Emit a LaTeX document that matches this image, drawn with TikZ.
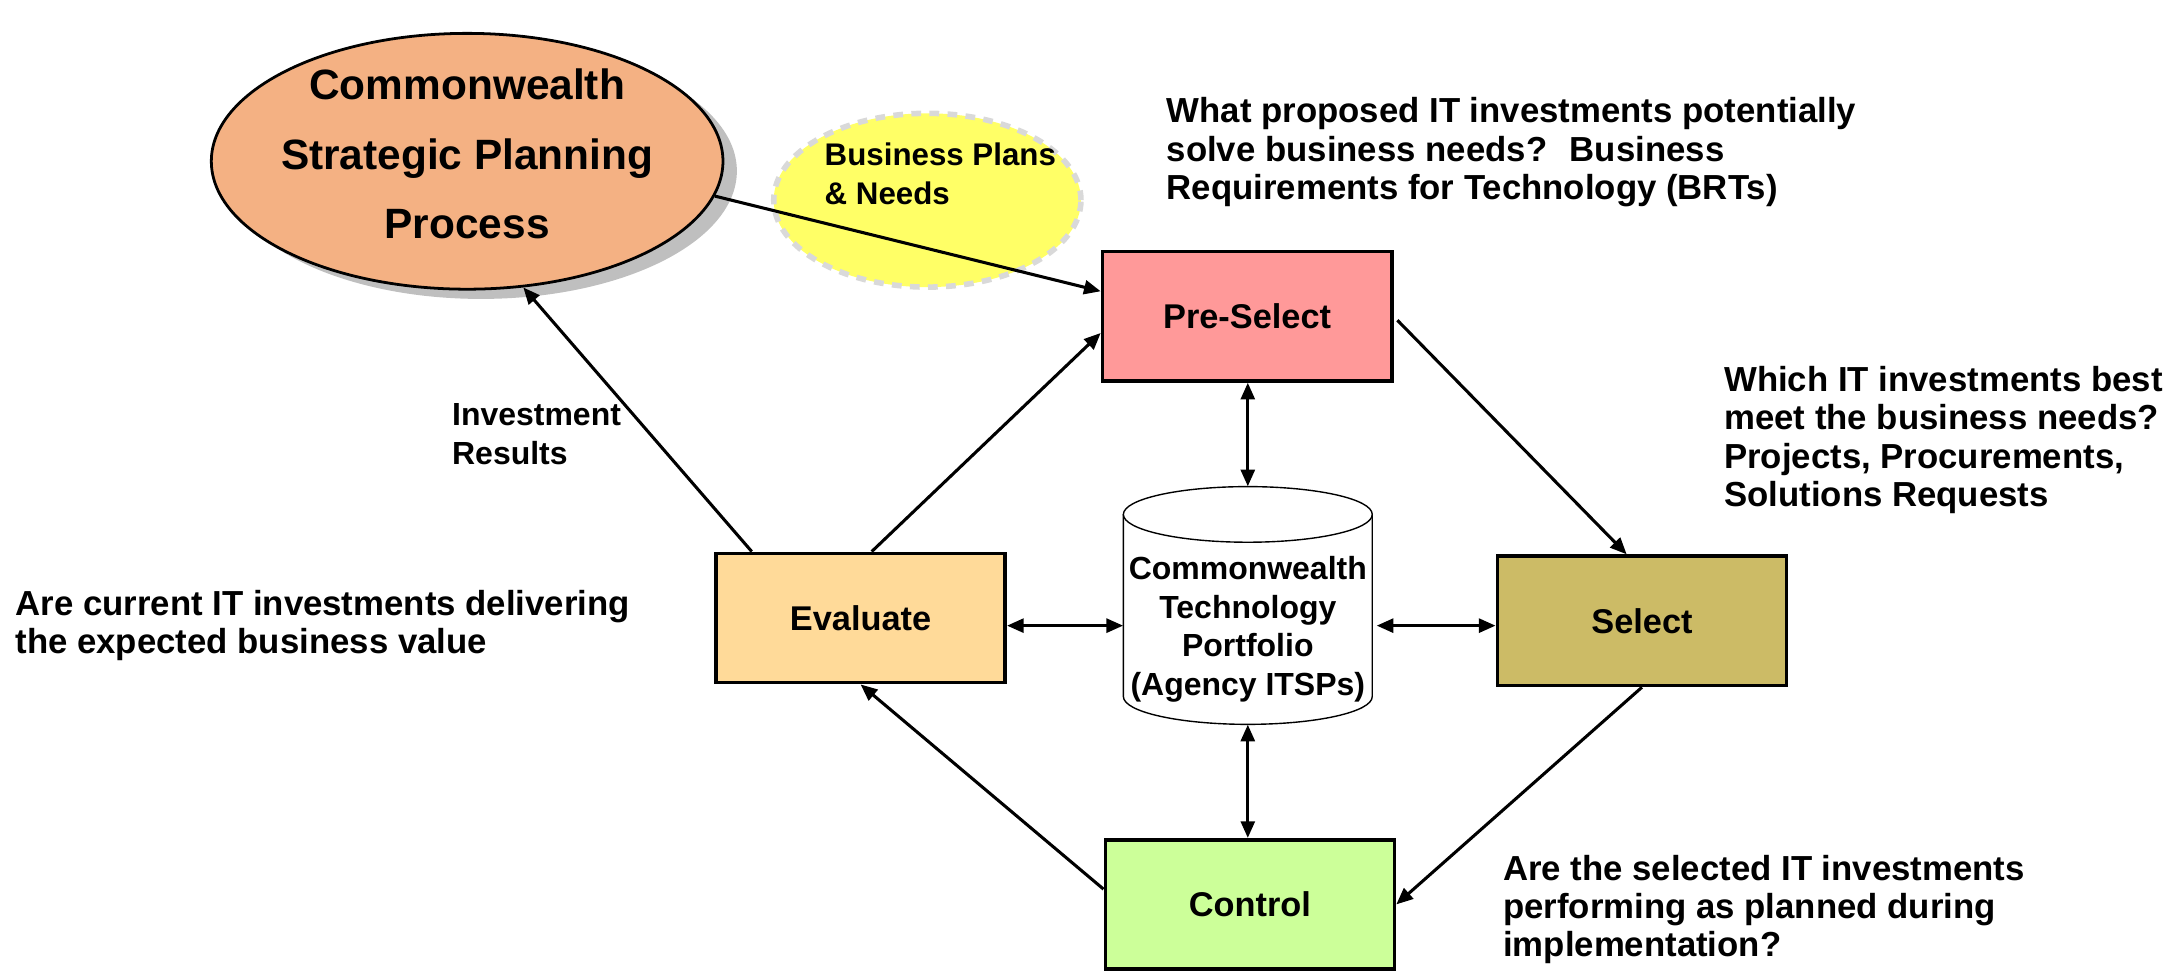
\documentclass[tikz,border=0pt]{standalone}
\usepackage{fontspec}
\setmainfont{Liberation Sans}
\usetikzlibrary{shapes.geometric, arrows.meta}

\definecolor{planfill}{HTML}{F4B183}
\definecolor{planshadow}{HTML}{BFBFBF}
\definecolor{needsfill}{HTML}{FFFF66}
\definecolor{needsline}{HTML}{D9D9D9}
\definecolor{prefill}{HTML}{FF9999}
\definecolor{selfill}{HTML}{CCBB66}
\definecolor{evalfill}{HTML}{FFDA99}
\definecolor{ctlfill}{HTML}{CCFF99}

\tikzset{
  stage/.style={draw, line width=2.6pt, minimum width=208pt, minimum height=93pt,
    inner sep=0pt, font=\fontsize{24.7}{28}\selectfont\bfseries},
  note/.style={anchor=west, align=left, inner sep=0pt,
    font=\fontsize{25}{27.5}\selectfont\bfseries},
  flow/.style={-{Triangle[length=12pt,width=10pt]}, line width=2.2pt},
  link/.style={{Triangle[length=12pt,width=10pt]}-{Triangle[length=12pt,width=10pt]}, line width=2.2pt}
}

\begin{document}
\begin{tikzpicture}[x=1pt, y=-1pt]
  \useasboundingbox (0,0) rectangle (1568,698);

  % strategic planning ellipse and its shadow
  \fill[planshadow] (346,123) ellipse [x radius=184, y radius=92];
  \node[ellipse, draw, line width=2pt, fill=planfill, minimum width=368pt, minimum height=184pt,
    inner sep=0pt] (plan) at (336,116) {};
  \node[align=center, inner sep=0pt, font=\fontsize{30.5}{50}\selectfont\bfseries]
    (plantext) at (336,111) {Commonwealth\\Strategic Planning\\Process};

  \node[ellipse, draw=needsline, dash pattern=on 7pt off 6pt, line width=4pt, fill=needsfill,
    minimum width=221pt, minimum height=125pt] (needs) at (667,144) {};
  \node[anchor=west, align=left, inner sep=0pt, font=\fontsize{22.5}{28}\selectfont\bfseries]
    (needstext) at (593,125) {Business Plans\\\& Needs};

  % the four stages
  \node[stage, fill=prefill] (pre) at (897,227.5) {Pre-Select};
  \node[stage, fill=selfill] (sel) at (1181,446.5) {Select};
  \node[stage, fill=evalfill] (eval) at (619,444.5) {Evaluate};
  \node[stage, fill=ctlfill] (ctl) at (899,650.5) {Control};

  % portfolio cylinder
  \draw[line width=1pt, fill=white] (808,370) -- (808,501)
    arc[start angle=180, end angle=360, x radius=89.5pt, y radius=20pt] -- (987,370);
  \draw[line width=1pt, fill=white] (897.5,370) ellipse [x radius=89.5, y radius=20];
  \node[inner sep=0pt, minimum width=179pt, minimum height=171pt] (port) at (897.5,435.5) {};
  \node[align=center, inner sep=0pt, font=\fontsize{23}{27.7}\selectfont\bfseries]
    (porttext) at (897.5,452.5) {Commonwealth\\Technology\\Portfolio\\(Agency ITSPs)};

  % questions
  \node[note] (q1) at (839,109.5) {What proposed IT investments potentially\\solve business needs?~ Business\\Requirements for Technology (BRTs)};
  \node[note] (q2) at (1240,316.5) {Which IT investments best\\meet the business needs?\\Projects, Procurements,\\Solutions Requests};
  \node[note] (q3) at (11,450) {Are current IT investments delivering\\the expected business value};
  \node[note] (q4) at (1081,654) {Are the selected IT investments\\performing as planned during\\implementation?};
  \node[note, font=\fontsize{23}{28}\selectfont\bfseries] (results) at (325,312) {Investment\\Results};

  % cycle
  \coordinate (mid) at (0,450);
  \draw[flow] (plan.-8) -- ([yshift=18pt]pre.west);
  \draw[flow] ([xshift=27pt]eval.north west) -- (plan.-66);
  \draw[flow] ([xshift=8pt]eval.north) -- ([yshift=-12pt]pre.west);
  \draw[flow, shorten <=4pt] (pre.east) -- ([xshift=-11pt]sel.north);
  \draw[flow] (sel.south) -- (ctl.east);
  \draw[flow] ([yshift=11pt]ctl.west) -- (eval.south);

  % to and from the portfolio
  \draw[link] (pre.south -| port.north) -- (port.north);
  \draw[link] (port.south) -- (port.south |- ctl.north);
  \draw[link] (eval.east |- mid) -- (port.west |- mid);
  \draw[link, shorten <=3pt] (port.east |- mid) -- (sel.west |- mid);
\end{tikzpicture}
\end{document}
